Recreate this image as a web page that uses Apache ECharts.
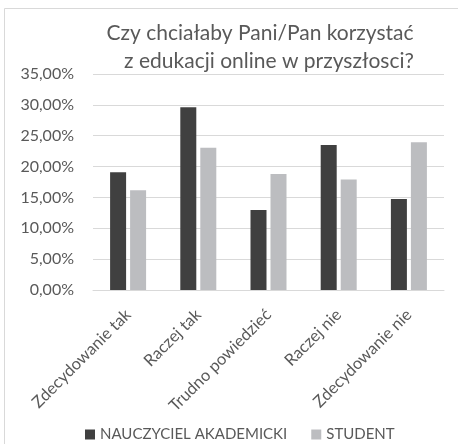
<!DOCTYPE html>
<html>
<head>
<meta charset="utf-8">
<script src="https://cdn.jsdelivr.net/npm/echarts@6/dist/echarts.min.js"></script>
<style>
  html, body { margin: 0; padding: 0; background: #fff; }
  #chart { width: 458px; height: 444px; }
</style>
</head>
<body>
<div id="chart"></div>
<script>
  // odpowiedzi (kategorie osi X)
  var categories = ['Zdecydowanie tak', 'Raczej tak', 'Trudno powiedzieć', 'Raczej nie', 'Zdecydowanie nie'];
  // procenty
  var nauczyciel = [19.06, 29.6, 12.98, 23.5, 14.75];
  var student = [16.15, 23.05, 18.8, 17.9, 23.96];
  var seriesNames = ['NAUCZYCIEL AKADEMICKI', 'STUDENT'];
  var titleLines = ['Czy chciałaby Pani/Pan korzystać', 'z edukacji online w przyszłosci?'];

  var font = 'Lato';
  var myChart = echarts.init(document.getElementById('chart'));

  var option = {
    animation: false,
    textStyle: { fontFamily: font },
    title: [
      {
        text: titleLines[0],
        left: 255, top: 18, textAlign: 'center',
        textStyle: { fontFamily: font, fontSize: 21, fontWeight: 'normal', color: '#595959' }
      },
      {
        text: titleLines[1],
        left: 264, top: 46, textAlign: 'center',
        textStyle: { fontFamily: font, fontSize: 21, fontWeight: 'normal', color: '#595959' }
      }
    ],
    graphic: [{
      type: 'rect',
      shape: { x: 4.5, y: 8.5, width: 470, height: 460 },
      style: { fill: 'none', stroke: '#d9d9d9', lineWidth: 1 },
      silent: true
    }],
    legend: {
      data: seriesNames,
      left: 80,
      top: 422,
      itemWidth: 10,
      itemHeight: 10,
      itemGap: 24,
      icon: 'rect',
      textStyle: { fontFamily: font, fontSize: 15, color: '#595959' }
    },
    grid: {
      left: 93,
      right: 14,
      top: 74,
      bottom: 154
    },
    xAxis: {
      type: 'category',
      data: categories,
      axisTick: { show: false },
      axisLine: { show: true, lineStyle: { color: '#d9d9d9', width: 1 } },
      axisLabel: {
        interval: 0,
        rotate: 45,
        margin: 22,
        fontFamily: font,
        fontSize: 16.5,
        color: '#595959'
      }
    },
    yAxis: {
      type: 'value',
      min: 0,
      max: 35,
      interval: 5,
      axisLine: { show: false },
      axisTick: { show: false },
      splitLine: { lineStyle: { color: '#d9d9d9', width: 1 } },
      axisLabel: {
        margin: 19,
        fontFamily: font,
        fontSize: 16,
        color: '#595959',
        formatter: function (v) {
          return v.toFixed(2).replace('.', ',') + '%';
        }
      }
    },
    series: [
      {
        name: seriesNames[0],
        type: 'bar',
        data: nauczyciel,
        barWidth: 16,
        barGap: '25%',
        itemStyle: { color: '#404040' }
      },
      {
        name: seriesNames[1],
        type: 'bar',
        data: student,
        barWidth: 16,
        itemStyle: { color: '#bcbdc0' }
      }
    ]
  };

  myChart.setOption(option, true);
</script>
</body>
</html>
